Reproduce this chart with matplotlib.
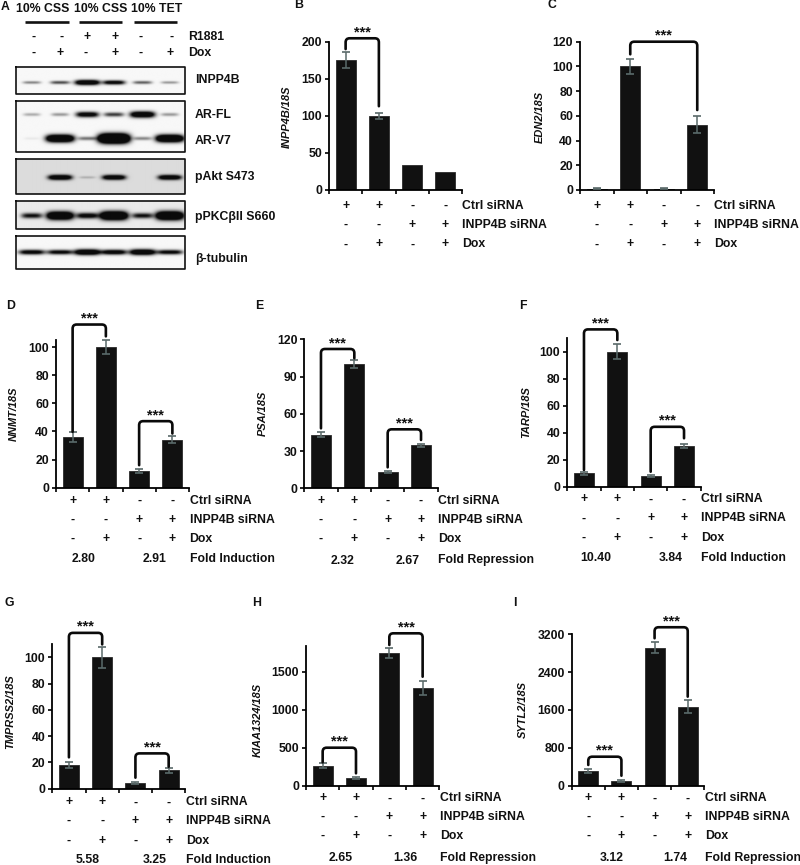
import numpy as np
import matplotlib
matplotlib.use('Agg')
import matplotlib.pyplot as plt
from matplotlib.path import Path
from matplotlib.patches import PathPatch
from matplotlib.transforms import IdentityTransform

plt.rcParams['font.family'] = ['Liberation Sans', 'DejaVu Sans']
plt.rcParams['font.weight'] = 'bold'

W, H = 800, 865
FS = 8.8

# bar heights and errors
inpp4b = [175, 100, 34, 24]
inpp4b_err = [11, 4, 0, 0]
edn2 = [1, 100, 1, 53]
edn2_err = [0.3, 6, 0.3, 7]
nnmt = [36, 100, 12, 34]
nnmt_err = [3.5, 5, 1.2, 2.5]
psa = [43, 100, 13, 34.5]
psa_err = [2, 3, 1, 1.5]
tarp = [10, 100, 8, 30]
tarp_err = [1, 5.5, 0.8, 1.5]
tmprss2 = [18, 100, 4.5, 14]
tmprss2_err = [2.2, 8, 0.8, 1.8]
kiaa1324 = [265, 100, 1745, 1285]
kiaa1324_err = [30, 10, 65, 95]
sytl2 = [310, 95, 2920, 1670]
sytl2_err = [45, 20, 110, 140]

ctrl_row = ['+', '+', '-', '-']
inpp4b_row = ['-', '-', '+', '+']
dox_row = ['-', '+', '-', '+']

# western blot band strengths, one per lane
blot_inpp4b = [.3, .45, 1, .75, .4, .25]
blot_arfl = [.2, .25, .8, .5, 1, .25]
blot_arv7 = [.04, 1.3, .35, 1.8, .3, 1.3]
blot_pakt = [0, .9, .12, .85, 0, .85]
blot_ppkc = [.6, 1.2, .7, 1.3, .6, 1.3]
blot_tubulin = [.75, .7, 1.0, .8, 1.0, .7]

lane_r1881 = ['-', '-', '+', '+', '-', '-']
lane_dox = ['-', '+', '-', '+', '-', '+']

# x0, x1, y0, ytop in pixels of the picture
panels = [
    dict(label='INPP4B/18S', vals=inpp4b, err=inpp4b_err, box=(329, 462, 190, 41.7), ymax=200,
         ticks=[0, 50, 100, 150, 200], ylab=(287, 116.7), rows=(205.7, 225, 244.3),
         brackets=[(0, 1, 204.6, 190, 113)]),
    dict(label='EDN2/18S', vals=edn2, err=edn2_err, box=(580, 714, 190, 41.7), ymax=120,
         ticks=[0, 20, 40, 60, 80, 100, 120], ylab=(540, 116.7), rows=(205.7, 225, 244.3),
         brackets=[(1, 3, 120, 109.8, 64.7)]),
    dict(label='NNMT/18S', vals=nnmt, err=nnmt_err, box=(56, 189, 487.7, 340), ymax=105,
         ticks=[0, 20, 40, 60, 80, 100], ylab=(14, 414), rows=(501, 520, 539),
         brackets=[(0, 1, 116, 39.7, 107.6), (2, 3, 47.3, 16, 38.5)],
         fold=(['2.80', '2.91'], [.34, 2.46], 'Fold Induction', 559.3)),
    dict(label='PSA/18S', vals=psa, err=psa_err, box=(304.3, 437.7, 488.3, 339.3), ymax=120,
         ticks=[0, 30, 60, 90, 120], ylab=(263, 413), rows=(501, 520, 539),
         brackets=[(0, 1, 112.2, 48.3, 104.7), (2, 3, 47.5, 16.9, 38.9)],
         fold=(['2.32', '2.67'], [.66, 2.6], 'Fold Repression', 560.5)),
    dict(label='TARP/18S', vals=tarp, err=tarp_err, box=(567.3, 700.7, 486.7, 338.3), ymax=110,
         ticks=[0, 20, 40, 60, 80, 100], ylab=(526, 411.7), rows=(499.3, 518.3, 538),
         brackets=[(0, 1, 116.6, 12.4, 108.7), (2, 3, 44.4, 11.1, 35.9)],
         fold=(['10.40', '3.84'], [.36, 2.59], 'Fold Induction', 558)),
    dict(label='TMPRSS2/18S', vals=tmprss2, err=tmprss2_err, box=(52.3, 185.3, 788.7, 644.3), ymax=110,
         ticks=[0, 20, 40, 60, 80, 100], ylab=(10.7, 711.7), rows=(802.3, 821, 840.7),
         brackets=[(0, 1, 118.7, 23.9, 109.9), (2, 3, 26.9, 8.4, 16.7)],
         fold=(['5.58', '3.25'], [.56, 2.59], 'Fold Induction', 860)),
    dict(label='KIAA1324/18S', vals=kiaa1324, err=kiaa1324_err, box=(306, 439.3, 785.7, 645.7), ymax=1842,
         ticks=[0, 500, 1000, 1500], ylab=(258, 720), rows=(798.3, 817, 836),
         brackets=[(0, 1, 500, 308, 163), (2, 3, 2005, 1851, 1434)],
         fold=(['2.65', '1.36'], [.54, 2.48], 'Fold Repression', 858)),
    dict(label='SYTL2/18S', vals=sytl2, err=sytl2_err, box=(571.7, 704.3, 785.7, 634.3), ymax=3200,
         ticks=[0, 800, 1600, 2400, 3200], ylab=(523, 710), rows=(798.3, 817, 836),
         brackets=[(0, 1, 613, 438, 211), (2, 3, 3349, 3116, 1882)],
         fold=(['3.12', '1.74'], [.7, 2.62], 'Fold Repression', 858)),
]

fig = plt.figure(figsize=(W / 100, H / 100), dpi=100, facecolor='white')

# overlay in picture pixels, for all the loose text
page = fig.add_axes([0, 0, 1, 1], zorder=5)
page.set_xlim(0, W)
page.set_ylim(H, 0)
page.axis('off')
page.patch.set_alpha(0)


def put(x, y, s, ha='center', size=FS, **kw):
    page.text(x, y, s, ha=ha, va='center', fontsize=size, color='#111111', **kw)


def bracket(ax, i, j, top, low_left, low_right):
    # rounded square bracket, corners fixed in pixels
    (xl, yt), (xr, _) = ax.transData.transform([(i, top), (j, top)])
    yl = ax.transData.transform((i, low_left))[1]
    yr = ax.transData.transform((j, low_right))[1]
    r = 4
    verts = [(xl, yl), (xl, yt - r), (xl, yt), (xl + r, yt), (xr - r, yt), (xr, yt), (xr, yt - r), (xr, yr)]
    codes = [Path.MOVETO, Path.LINETO, Path.CURVE3, Path.CURVE3, Path.LINETO, Path.CURVE3, Path.CURVE3, Path.LINETO]
    fig.add_artist(PathPatch(Path(verts, codes), fill=False, ec='#0a0a0a', lw=1.9,
                             transform=IdentityTransform(), capstyle='round', zorder=6))
    xm = (xl + xr) / 2
    page.text(xm, H - yt - 6, '***', ha='center', va='center', fontsize=10.5, color='#111111')


def bar_panel(p):
    x0, x1, y0, ytop = p['box']
    ax = fig.add_axes([x0 / W, 1 - y0 / H, (x1 - x0) / W, (y0 - ytop) / H])
    pos = np.arange(4)
    ax.bar(pos, p['vals'], width=0.6, color='#111111', edgecolor='#2a2a2a', linewidth=0.6)
    for k in pos:
        if p['err'][k] > 0:
            ax.errorbar(k, p['vals'][k], yerr=p['err'][k], color='#5a6a6a', capsize=2.6,
                        elinewidth=1.1, capthick=1.2, clip_on=False, zorder=4)
    ax.set_xlim(-0.5, 3.5)
    ax.set_ylim(0, p['ymax'])
    ax.set_xticks([-0.5, 0.5, 1.5, 2.5, 3.5])
    ax.set_xticklabels([])
    ax.set_yticks(p['ticks'])
    ax.tick_params(axis='y', labelsize=FS, length=3, width=1.2, pad=2, labelcolor='#111111')
    ax.tick_params(axis='x', length=3, width=1.2)
    for lab in ax.get_yticklabels():
        lab.set_fontweight('bold')
    ax.spines['top'].set_visible(False)
    ax.spines['right'].set_visible(False)
    ax.spines['left'].set_linewidth(1.3)
    ax.spines['bottom'].set_linewidth(1.3)

    put(p['ylab'][0], p['ylab'][1], p['label'], size=7.9, rotation=90, style='italic')

    step = (x1 - x0) / 4
    for row, y, name in zip([ctrl_row, inpp4b_row, dox_row], p['rows'], ['Ctrl siRNA', 'INPP4B siRNA', 'Dox']):
        for k, s in enumerate(row):
            put(x0 + step * (k + 0.5), y, s)
        put(x1 + 0.5, y, name, ha='left')
    if 'fold' in p:
        vals, where, name, y = p['fold']
        for s, c in zip(vals, where):
            put(x0 + step * (c + 0.5), y, s)
        put(x1 + 0.5, y, name, ha='left')
    for b in p['brackets']:
        bracket(ax, *b)


for p in panels:
    bar_panel(p)

# panel letters
for s, x, y in [('A', 5, 7), ('B', 299, 5), ('C', 552, 5), ('D', 11, 306), ('E', 259, 306),
                ('F', 523, 306), ('G', 9, 603), ('H', 257, 603), ('I', 515, 603)]:
    put(x, y, s)

# panel A, header
for s, x, a, b in [('10% CSS', 43, 25, 69), ('10% CSS', 100.7, 79, 122), ('10% TET', 156.7, 134, 177)]:
    put(x, 9.3, s)
    page.plot([a, b], [22.3, 22.3], color='#111111', lw=1.9, solid_capstyle='butt')

r_x = [34, 62, 87, 115, 141, 172]
d_x = [34, 60, 86, 115, 141, 170]
for k in range(6):
    put(r_x[k], 36.7, lane_r1881[k])
    put(d_x[k], 52.7, lane_dox[k])
put(187.7, 36.7, 'R1881', ha='left')
put(187.7, 52.7, 'Dox', ha='left')

# panel A, blots
lanes = np.array([95, 180, 262, 342, 428, 510]) / 3


def blot(y_top, y_bot, bands, bg=0.0, flat=False, thin=1.0):
    xs = np.linspace(16, 185, 340)
    ys = np.linspace(y_top, y_bot, int((y_bot - y_top) * 2))
    X, Y = np.meshgrid(xs, ys)
    dark = np.full(X.shape, bg)
    for y_c, strengths in bands:
        for c, s in zip(lanes, strengths):
            w = 13 if flat else 7.5 + 5 * min(s, 1.6)
            h = (1.4 + 2.2 * s) * thin
            dark += 1.5 * s * np.exp(-((X - c) / w) ** 4) * np.exp(-((Y - y_c) / h) ** 2)
    page.imshow(1 - np.clip(dark, 0, 0.96), cmap='gray', vmin=0, vmax=1, aspect='auto',
                extent=(16, 185, y_bot, y_top), interpolation='bilinear', zorder=1)
    page.plot([16, 185, 185, 16, 16], [y_top, y_top, y_bot, y_bot, y_top], color='#111111', lw=1.2, zorder=2)


blot(66.7, 94.3, [(83, blot_inpp4b)], bg=0.03, thin=0.7)
blot(100.7, 152.3, [(115, blot_arfl), (139, blot_arv7)], bg=0.03, thin=0.85)
blot(159.3, 194.3, [(177.7, blot_pakt)], bg=0.14, thin=0.75)
blot(201.3, 229.3, [(216, blot_ppkc)], bg=0.08)
blot(236, 268.7, [(252, blot_tubulin)], bg=0.03, flat=True, thin=0.8)
page.set_xlim(0, W)
page.set_ylim(H, 0)

for s, y in [('INPP4B', 80), ('AR-FL', 115), ('AR-V7', 141), ('pAkt S473', 176.7),
             ('pPKCβII S660', 217.3), ('β-tubulin', 259.3)]:
    put(195, y, s, ha='left')

fig.savefig('out.png', dpi=100)
